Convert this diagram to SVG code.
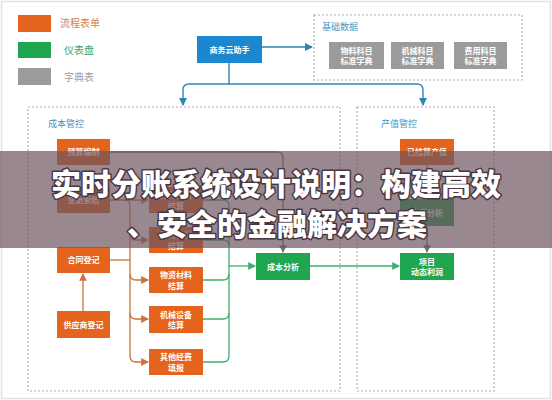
<svg xmlns="http://www.w3.org/2000/svg" width="552" height="400" viewBox="0 0 552 400">
<defs>
<style>
text{font-family:"Noto Sans CJK SC","Noto Sans",sans-serif}
.or{fill:#e4631d}
.gr{fill:#1ea650}
.gy{fill:#9b9b9b}
.bl{fill:#1a87cf}
.nt{fill:#fff;font-size:8px;font-weight:bold;text-anchor:middle}
.zone{fill:none;stroke:#b0b0b0;stroke-width:1.2;stroke-dasharray:2 2}
.zl{fill:#3f95c4;font-size:9px}
.cb{fill:none;stroke:#2f86b0;stroke-width:1.4}
.co{fill:none;stroke:#c9733f;stroke-width:1.3}
.cg{fill:none;stroke:#3fae6e;stroke-width:1.3}
.ck{fill:none;stroke:#6f6f6f;stroke-width:1.3}
.title{fill:#fff;font-size:30px;font-weight:900;text-anchor:middle;stroke:#4a3640;stroke-width:3;paint-order:stroke;stroke-linejoin:round}
</style>
<marker id="ab" viewBox="0 0 8 8" refX="7" refY="4" markerWidth="6" markerHeight="6" orient="auto"><path d="M0,0L8,4L0,8z" fill="#2f86b0"/></marker>
<marker id="ao" viewBox="0 0 8 8" refX="7" refY="4" markerWidth="6" markerHeight="6" orient="auto"><path d="M0,0L8,4L0,8z" fill="#c9733f"/></marker>
<marker id="ag" viewBox="0 0 8 8" refX="7" refY="4" markerWidth="6" markerHeight="6" orient="auto"><path d="M0,0L8,4L0,8z" fill="#3fae6e"/></marker>
<marker id="ak" viewBox="0 0 8 8" refX="7" refY="4" markerWidth="6" markerHeight="6" orient="auto"><path d="M0,0L8,4L0,8z" fill="#6f6f6f"/></marker>
</defs>
<rect x="0" y="0" width="552" height="400" fill="#fff"/>
<rect x="1.5" y="1.5" width="549" height="397" fill="none" stroke="#e2e2e2" stroke-width="1.5"/>

<g id="legend">
<rect class="or" x="18" y="15" width="33" height="17"/>
<text x="60" y="27" font-size="10" fill="#d4824f">流程表单</text>
<rect class="gr" x="18" y="42" width="33" height="16"/>
<text x="64" y="54" font-size="10" fill="#3aa56a">仪表盘</text>
<rect class="gy" x="18" y="68" width="33" height="17"/>
<text x="64" y="81" font-size="10" fill="#a0a0a0">字典表</text>
</g>

<g id="zones">
<rect class="zone" x="314" y="15" width="208" height="65"/>
<text class="zl" x="322" y="30">基础数据</text>
<rect class="zone" x="28" y="107" width="312" height="284"/>
<text class="zl" x="48" y="127">成本管控</text>
<rect class="zone" x="357" y="107" width="137" height="284"/>
<text class="zl" x="381" y="127">产值管控</text>
</g>

<g id="connectors">
<path class="cb" d="M262,47H312" marker-end="url(#ab)"/>
<path class="cb" d="M229,63V84H189Q183,84 183,90V105" marker-end="url(#ab)"/>
<path class="cb" d="M229,84H417Q423,84 423,90V105" marker-end="url(#ab)"/>
<path class="co" d="M83,311V274" marker-end="url(#ao)"/>
<path class="co" d="M110,200H148" marker-end="url(#ao)"/>
<path class="co" d="M110,260H130"/>
<path class="co" d="M124,200Q130,200 130,206V356Q130,362 136,362H148" marker-end="url(#ao)"/>
<path class="co" d="M130,234Q130,240 136,240H148" marker-end="url(#ao)"/>
<path class="co" d="M130,274Q130,280 136,280H148" marker-end="url(#ao)"/>
<path class="co" d="M130,313Q130,319 136,319H148" marker-end="url(#ao)"/>
<path class="cg" d="M203,200H223Q229,200 229,206V356Q229,362 223,362H203"/>
<path class="cg" d="M203,240H223Q229,240 229,246"/>
<path class="cg" d="M203,280H223Q229,280 229,274"/>
<path class="cg" d="M203,319H223Q229,319 229,313"/>
<path class="cg" d="M229,266H255" marker-end="url(#ag)"/>
<path class="ck" d="M110,152H277Q283,152 283,158V252" marker-end="url(#ak)"/>
<path class="cg" d="M310,266H399" marker-end="url(#ag)"/>
<path class="ck" d="M427,165V198" marker-end="url(#ak)"/>
<path class="ck" d="M427,226V252" marker-end="url(#ak)"/>
</g>

<g id="n-assistant"><rect class="bl" x="197" y="36" width="65" height="27"/><text class="nt" x="229.5" y="52.5" font-size="8.5">商务云助手</text></g>
<g id="n-dict1"><rect class="gy" x="329" y="42" width="55" height="27"/><text class="nt" x="356.5" y="53.5">物料科目</text><text class="nt" x="356.5" y="64">标准字典</text></g>
<g id="n-dict2"><rect class="gy" x="391" y="42" width="53" height="27"/><text class="nt" x="417.5" y="53.5">机械科目</text><text class="nt" x="417.5" y="64">标准字典</text></g>
<g id="n-dict3"><rect class="gy" x="454" y="42" width="53" height="27"/><text class="nt" x="480.5" y="53.5">费用科目</text><text class="nt" x="480.5" y="64">标准字典</text></g>

<g id="n-budget"><rect class="or" x="57" y="139" width="53" height="26"/><text class="nt" x="83.5" y="155">预算编制</text></g>
<g id="n-change"><rect class="or" x="57" y="187" width="53" height="26"/><text class="nt" x="83.5" y="203">变更索赔</text></g>
<g id="n-contract"><rect class="or" x="57" y="247" width="53" height="26"/><text class="nt" x="83.5" y="263">合同登记</text></g>
<g id="n-supplier"><rect class="or" x="57" y="311" width="53" height="27"/><text class="nt" x="83.5" y="327.5">供应商登记</text></g>

<g id="n-s1"><rect class="or" x="149" y="187" width="54" height="26"/><text class="nt" x="176" y="198">劳务分包</text><text class="nt" x="176" y="208.5">结算</text></g>
<g id="n-s2"><rect class="or" x="149" y="227" width="54" height="26"/><text class="nt" x="176" y="238">周转材料</text><text class="nt" x="176" y="248.5">结算</text></g>
<g id="n-s3"><rect class="or" x="149" y="267" width="54" height="26"/><text class="nt" x="176" y="278">物资材料</text><text class="nt" x="176" y="288.5">结算</text></g>
<g id="n-s4"><rect class="or" x="149" y="306" width="54" height="27"/><text class="nt" x="176" y="317.5">机械设备</text><text class="nt" x="176" y="328">结算</text></g>
<g id="n-s5"><rect class="or" x="149" y="349" width="54" height="26"/><text class="nt" x="176" y="360">其他经费</text><text class="nt" x="176" y="370.5">填报</text></g>

<g id="n-costan"><rect class="gr" x="256" y="253" width="54" height="27"/><text class="nt" x="283" y="269.5">成本分析</text></g>
<g id="n-settled"><rect class="or" x="400" y="139" width="54" height="26"/><text class="nt" x="427" y="155">已结算产值</text></g>
<g id="n-valan"><rect class="gr" x="400" y="199" width="54" height="27"/><text class="nt" x="427" y="215.5">产值分析</text></g>
<g id="n-profit"><rect class="gr" x="400" y="253" width="54" height="27"/><text class="nt" x="427" y="264.5">项目</text><text class="nt" x="427" y="275">动态利润</text></g>

<g id="banner">
<rect x="0" y="151" width="552" height="97" fill="#6e5560" opacity="0.7"/>
<text class="title" x="276" y="195">实时分账系统设计说明：构建高效</text>
<text class="title" x="277" y="235">、安全的金融解决方案</text>
</g>
</svg>
